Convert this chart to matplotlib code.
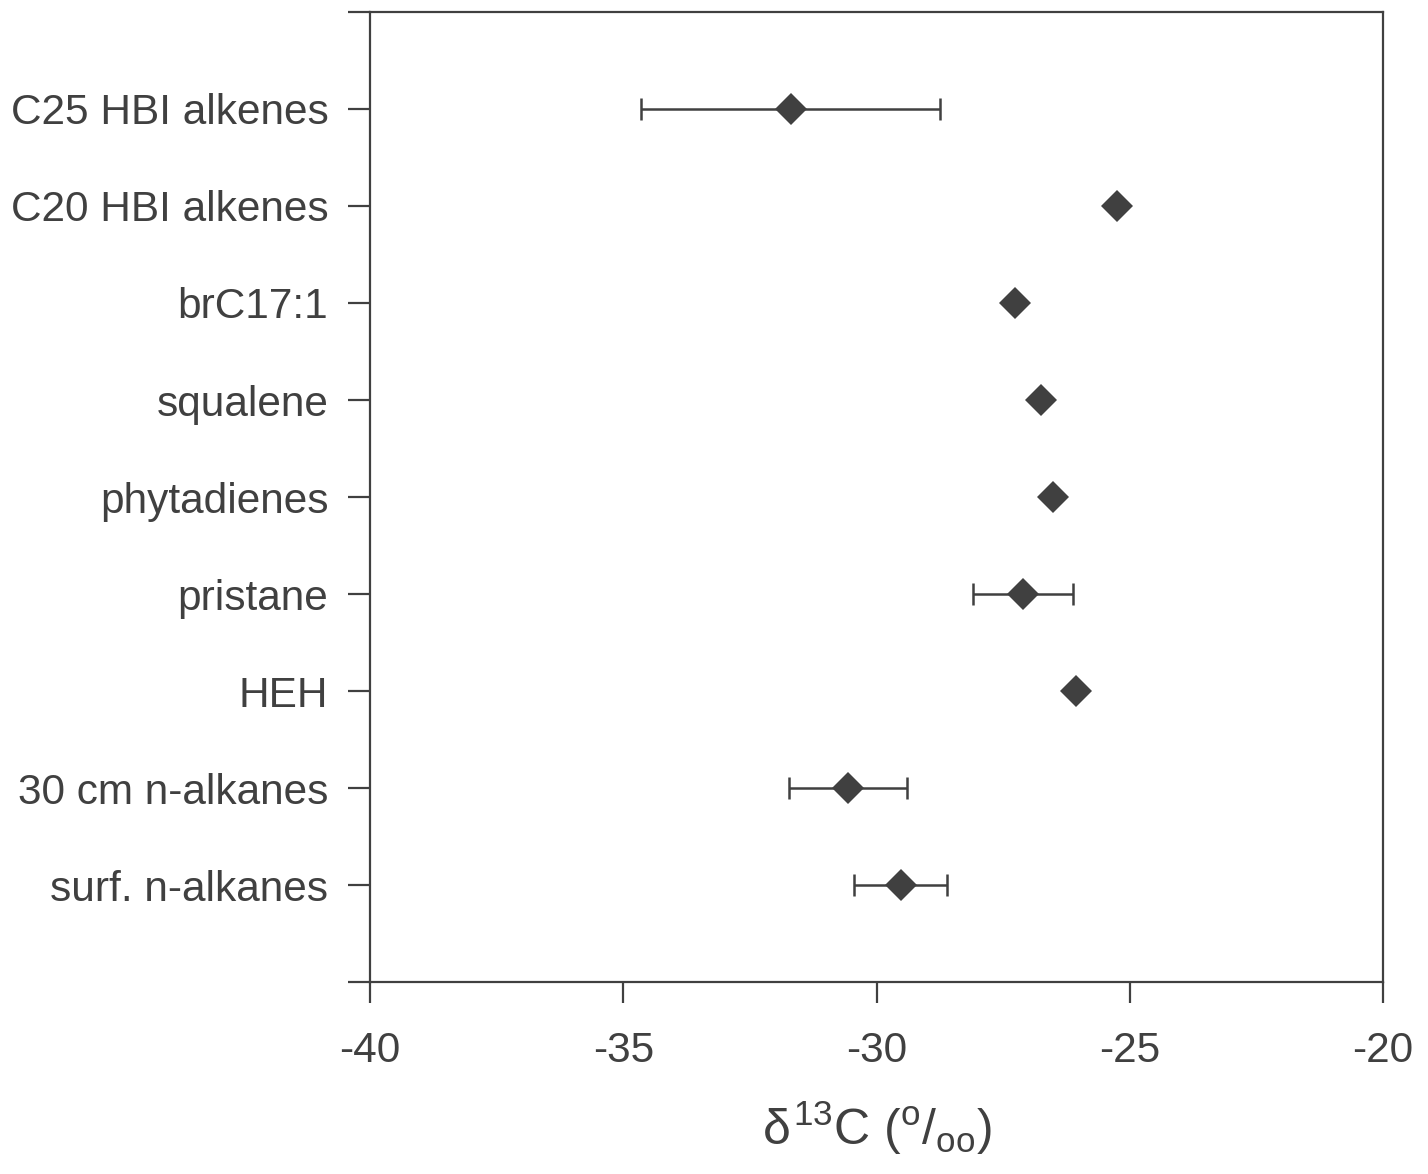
import matplotlib
matplotlib.use('Agg')
import matplotlib.pyplot as plt

plt.rcParams['font.family'] = ['Liberation Sans', 'DejaVu Sans']
plt.rcParams['mathtext.fontset'] = 'custom'
plt.rcParams['mathtext.rm'] = 'Liberation Sans'
plt.rcParams['mathtext.it'] = 'Liberation Sans'
plt.rcParams['mathtext.bf'] = 'Liberation Sans'

# data, bottom to top
compounds = ['surf. n-alkanes', '30 cm n-alkanes', 'HEH', 'pristane',
             'phytadienes', 'squalene', 'brC17:1', 'C20 HBI alkenes',
             'C25 HBI alkenes']
d13c = [-29.52, -30.56, -26.06, -27.11, -26.52, -26.75, -27.27, -25.25, -31.69]
err = [0.92, 1.16, 0, 0.99, 0, 0, 0, 0, 2.95]

ink = '#404040'
pos = list(range(1, len(compounds) + 1))

fig = plt.figure(figsize=(14.28, 11.74), dpi=100)
ax = fig.add_axes([0.2591, 0.1635, 0.7094, 0.8263])

# error bars only where there is a spread
ex = [d for d, e in zip(d13c, err) if e > 0]
ey = [p for p, e in zip(pos, err) if e > 0]
ee = [e for e in err if e > 0]
ax.errorbar(ex, ey, xerr=ee, fmt='none', ecolor=ink,
            elinewidth=1.8, capsize=8, capthick=1.8, zorder=2)
ax.plot(d13c, pos, 'D', color=ink, markersize=16.5, markeredgewidth=0,
        zorder=3)

ax.set_xlim(-40, -20)
ax.set_ylim(0, 10)
ax.set_xticks([-40, -35, -30, -25, -20])
ax.set_xticklabels(['-40', '-35', '-30', '-25', '-20'])
ax.set_yticks(range(0, 11))
ax.set_yticklabels([''] + compounds + [''])

for s in ax.spines.values():
    s.set_color(ink)
    s.set_linewidth(1.6)

ax.tick_params(axis='both', direction='out', color=ink, width=1.6,
               labelsize=30.5, labelcolor=ink)
ax.tick_params(axis='y', length=16, pad=14)
ax.tick_params(axis='x', length=15, pad=20)
for t in ax.get_yticklabels():
    t.set_fontsize(30.5)

ax.set_xlabel(r'$\delta^{13}$C ($^{\mathrm{o}}$/$_{\mathrm{oo}}$)',
              fontsize=36, color=ink, labelpad=20)

fig.savefig('out.png', dpi=100)
